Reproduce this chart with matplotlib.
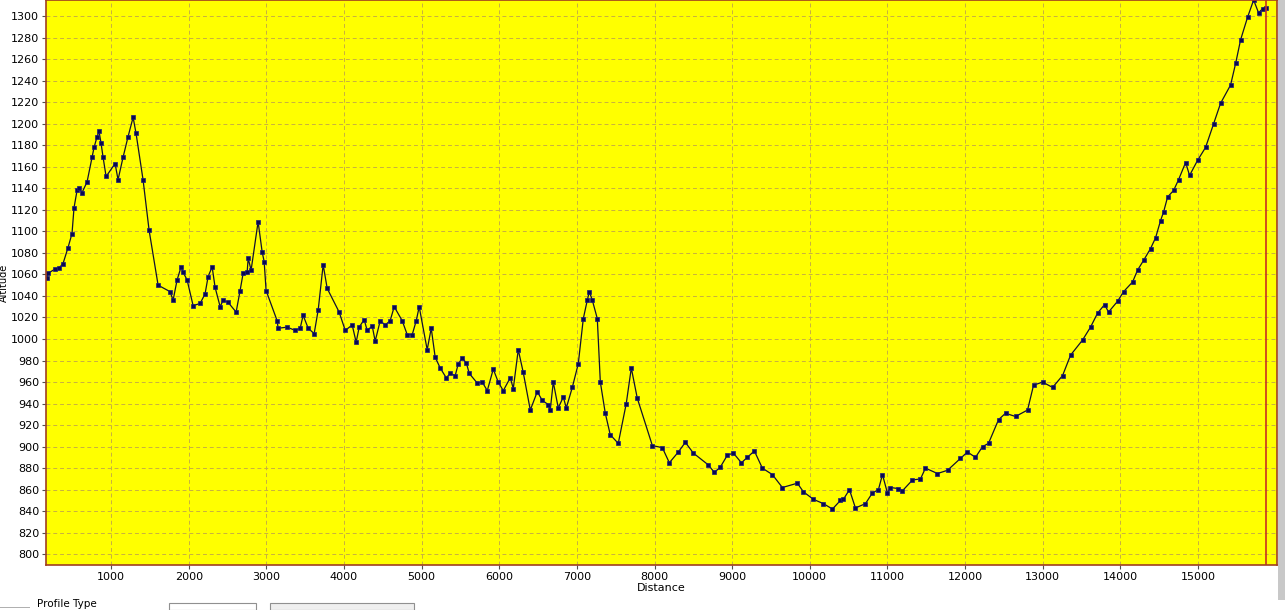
import matplotlib
matplotlib.use("Agg")
import matplotlib.pyplot as plt
from matplotlib.patches import Rectangle

# profile: distance (m) and altitude (m)
distance = [175, 188, 278, 330, 381, 446, 497, 523, 562, 588, 626, 691, 755, 781, 820, 845,
            871, 897, 936, 1052, 1090, 1155, 1219, 1284, 1322, 1412, 1490, 1606, 1760, 1799,
            1851, 1902, 1928, 1979, 2057, 2147, 2211, 2250, 2302, 2340, 2405, 2443, 2508,
            2611, 2662, 2701, 2753, 2766, 2804, 2894, 2946, 2972, 2997, 3139, 3152, 3268,
            3371, 3436, 3474, 3539, 3616, 3668, 3732, 3784, 3938, 4016, 4106, 4157, 4196,
            4260, 4299, 4364, 4402, 4467, 4531, 4595, 4647, 4750, 4815, 4879, 4931, 4969,
            5072, 5124, 5175, 5240, 5317, 5369, 5433, 5472, 5523, 5575, 5614, 5717, 5781,
            5846, 5923, 5987, 6052, 6142, 6181, 6245, 6309, 6400, 6490, 6554, 6632, 6657,
            6696, 6760, 6825, 6864, 6941, 7018, 7083, 7134, 7160, 7199, 7263, 7302, 7366,
            7430, 7533, 7636, 7701, 7778, 7972, 8101, 8191, 8307, 8397, 8500, 8693, 8771,
            8848, 8938, 9016, 9119, 9196, 9286, 9389, 9518, 9647, 9840, 9918, 10047, 10176,
            10292, 10395, 10433, 10511, 10588, 10717, 10807, 10884, 10936, 11000, 11039,
            11142, 11194, 11323, 11426, 11490, 11645, 11774, 11941, 12031, 12134, 12225,
            12302, 12431, 12521, 12650, 12805, 12882, 12998, 13127, 13256, 13359, 13513,
            13616, 13707, 13797, 13848, 13964, 14042, 14158, 14222, 14299, 14389, 14454,
            14518, 14557, 14609, 14686, 14750, 14841, 14892, 14995, 15098, 15201, 15291,
            15420, 15485, 15549, 15639, 15717, 15781, 15833, 15871]
altitude = [1057, 1061, 1065, 1066, 1070, 1085, 1098, 1122, 1138, 1140, 1136, 1146, 1169,
            1178, 1188, 1193, 1182, 1169, 1151, 1163, 1148, 1169, 1188, 1206, 1191, 1148,
            1101, 1050, 1044, 1036, 1055, 1067, 1062, 1055, 1031, 1033, 1042, 1058, 1067,
            1048, 1030, 1036, 1034, 1025, 1045, 1061, 1062, 1075, 1064, 1109, 1081, 1072,
            1045, 1017, 1010, 1011, 1008, 1010, 1022, 1010, 1005, 1027, 1069, 1047, 1025,
            1008, 1013, 997, 1011, 1018, 1008, 1012, 998, 1017, 1013, 1017, 1030, 1017, 1004,
            1004, 1017, 1030, 990, 1010, 983, 973, 964, 968, 966, 977, 982, 978, 968, 959,
            960, 952, 972, 960, 952, 964, 954, 990, 969, 934, 951, 943, 939, 934, 960, 936,
            946, 936, 955, 977, 1019, 1036, 1044, 1036, 1019, 960, 931, 911, 903, 940, 973,
            945, 901, 899, 885, 895, 904, 894, 883, 876, 881, 892, 894, 885, 890, 896, 880,
            874, 862, 866, 858, 851, 847, 842, 850, 851, 860, 843, 847, 857, 860, 874, 857,
            862, 861, 859, 869, 870, 880, 875, 878, 889, 895, 890, 900, 903, 925, 931, 928,
            934, 957, 960, 955, 966, 985, 999, 1011, 1024, 1032, 1025, 1035, 1044, 1053,
            1064, 1073, 1084, 1094, 1110, 1118, 1132, 1138, 1148, 1164, 1152, 1166, 1178,
            1200, 1219, 1236, 1256, 1278, 1299, 1315, 1303, 1307, 1308]

x_ticks = [1000, 2000, 3000, 4000, 5000, 6000, 7000, 8000, 9000, 10000, 11000, 12000,
           13000, 14000, 15000]
y_ticks = list(range(800, 1301, 20))
cursor = 15880

W, H = 1285, 610
fig = plt.figure(figsize=(W / 100, H / 100), dpi=100)
fig.patch.set_facecolor("white")

ax = fig.add_axes([46 / W, (H - 565) / H, (1277 - 46) / W, 565 / H])
ax.set_facecolor("#ffff00")
ax.plot(distance, altitude, color="#101030", lw=0.9, marker="s", markersize=2.6,
        markerfacecolor="#0a0a50", markeredgecolor="#1a1a80", markeredgewidth=0.5)
ax.axvline(cursor, color="#c83020", lw=1.2)

ax.set_xlim(162, 16018)
ax.set_ylim(790, 1315)
ax.set_xticks(x_ticks)
ax.set_yticks(y_ticks)
ax.tick_params(labelsize=8, length=3, color="#505050", pad=2)
ax.grid(True, ls=(0, (4, 3)), color="#c8b040", lw=0.7)
for s in ax.spines.values():
    s.set_color("#a04020")
    s.set_linewidth(1.2)
ax.set_xlabel("Distance", fontsize=8, labelpad=1)
ax.set_ylabel("Altitude", fontsize=7, labelpad=1)

# bits of the surrounding window
fig.patches.append(Rectangle((1278 / W, 10 / H), 7 / W, 600 / H, transform=fig.transFigure,
                             facecolor="#c8c8c8", edgecolor="none"))
fig.text(37 / W, 1 / H, "Profile Type", fontsize=7.5, va="bottom")
fig.patches.append(Rectangle((0, 2 / H), 30 / W, 1 / H, transform=fig.transFigure,
                             facecolor="#b0b0b0", edgecolor="none"))
fig.patches.append(Rectangle((169 / W, 0), 87 / W, 7 / H, transform=fig.transFigure,
                             facecolor="white", edgecolor="#909090", lw=0.8))
fig.patches.append(Rectangle((270 / W, 0), 144 / W, 7 / H, transform=fig.transFigure,
                             facecolor="#efefef", edgecolor="#909090", lw=0.8))

fig.savefig("out.png", dpi=100)
